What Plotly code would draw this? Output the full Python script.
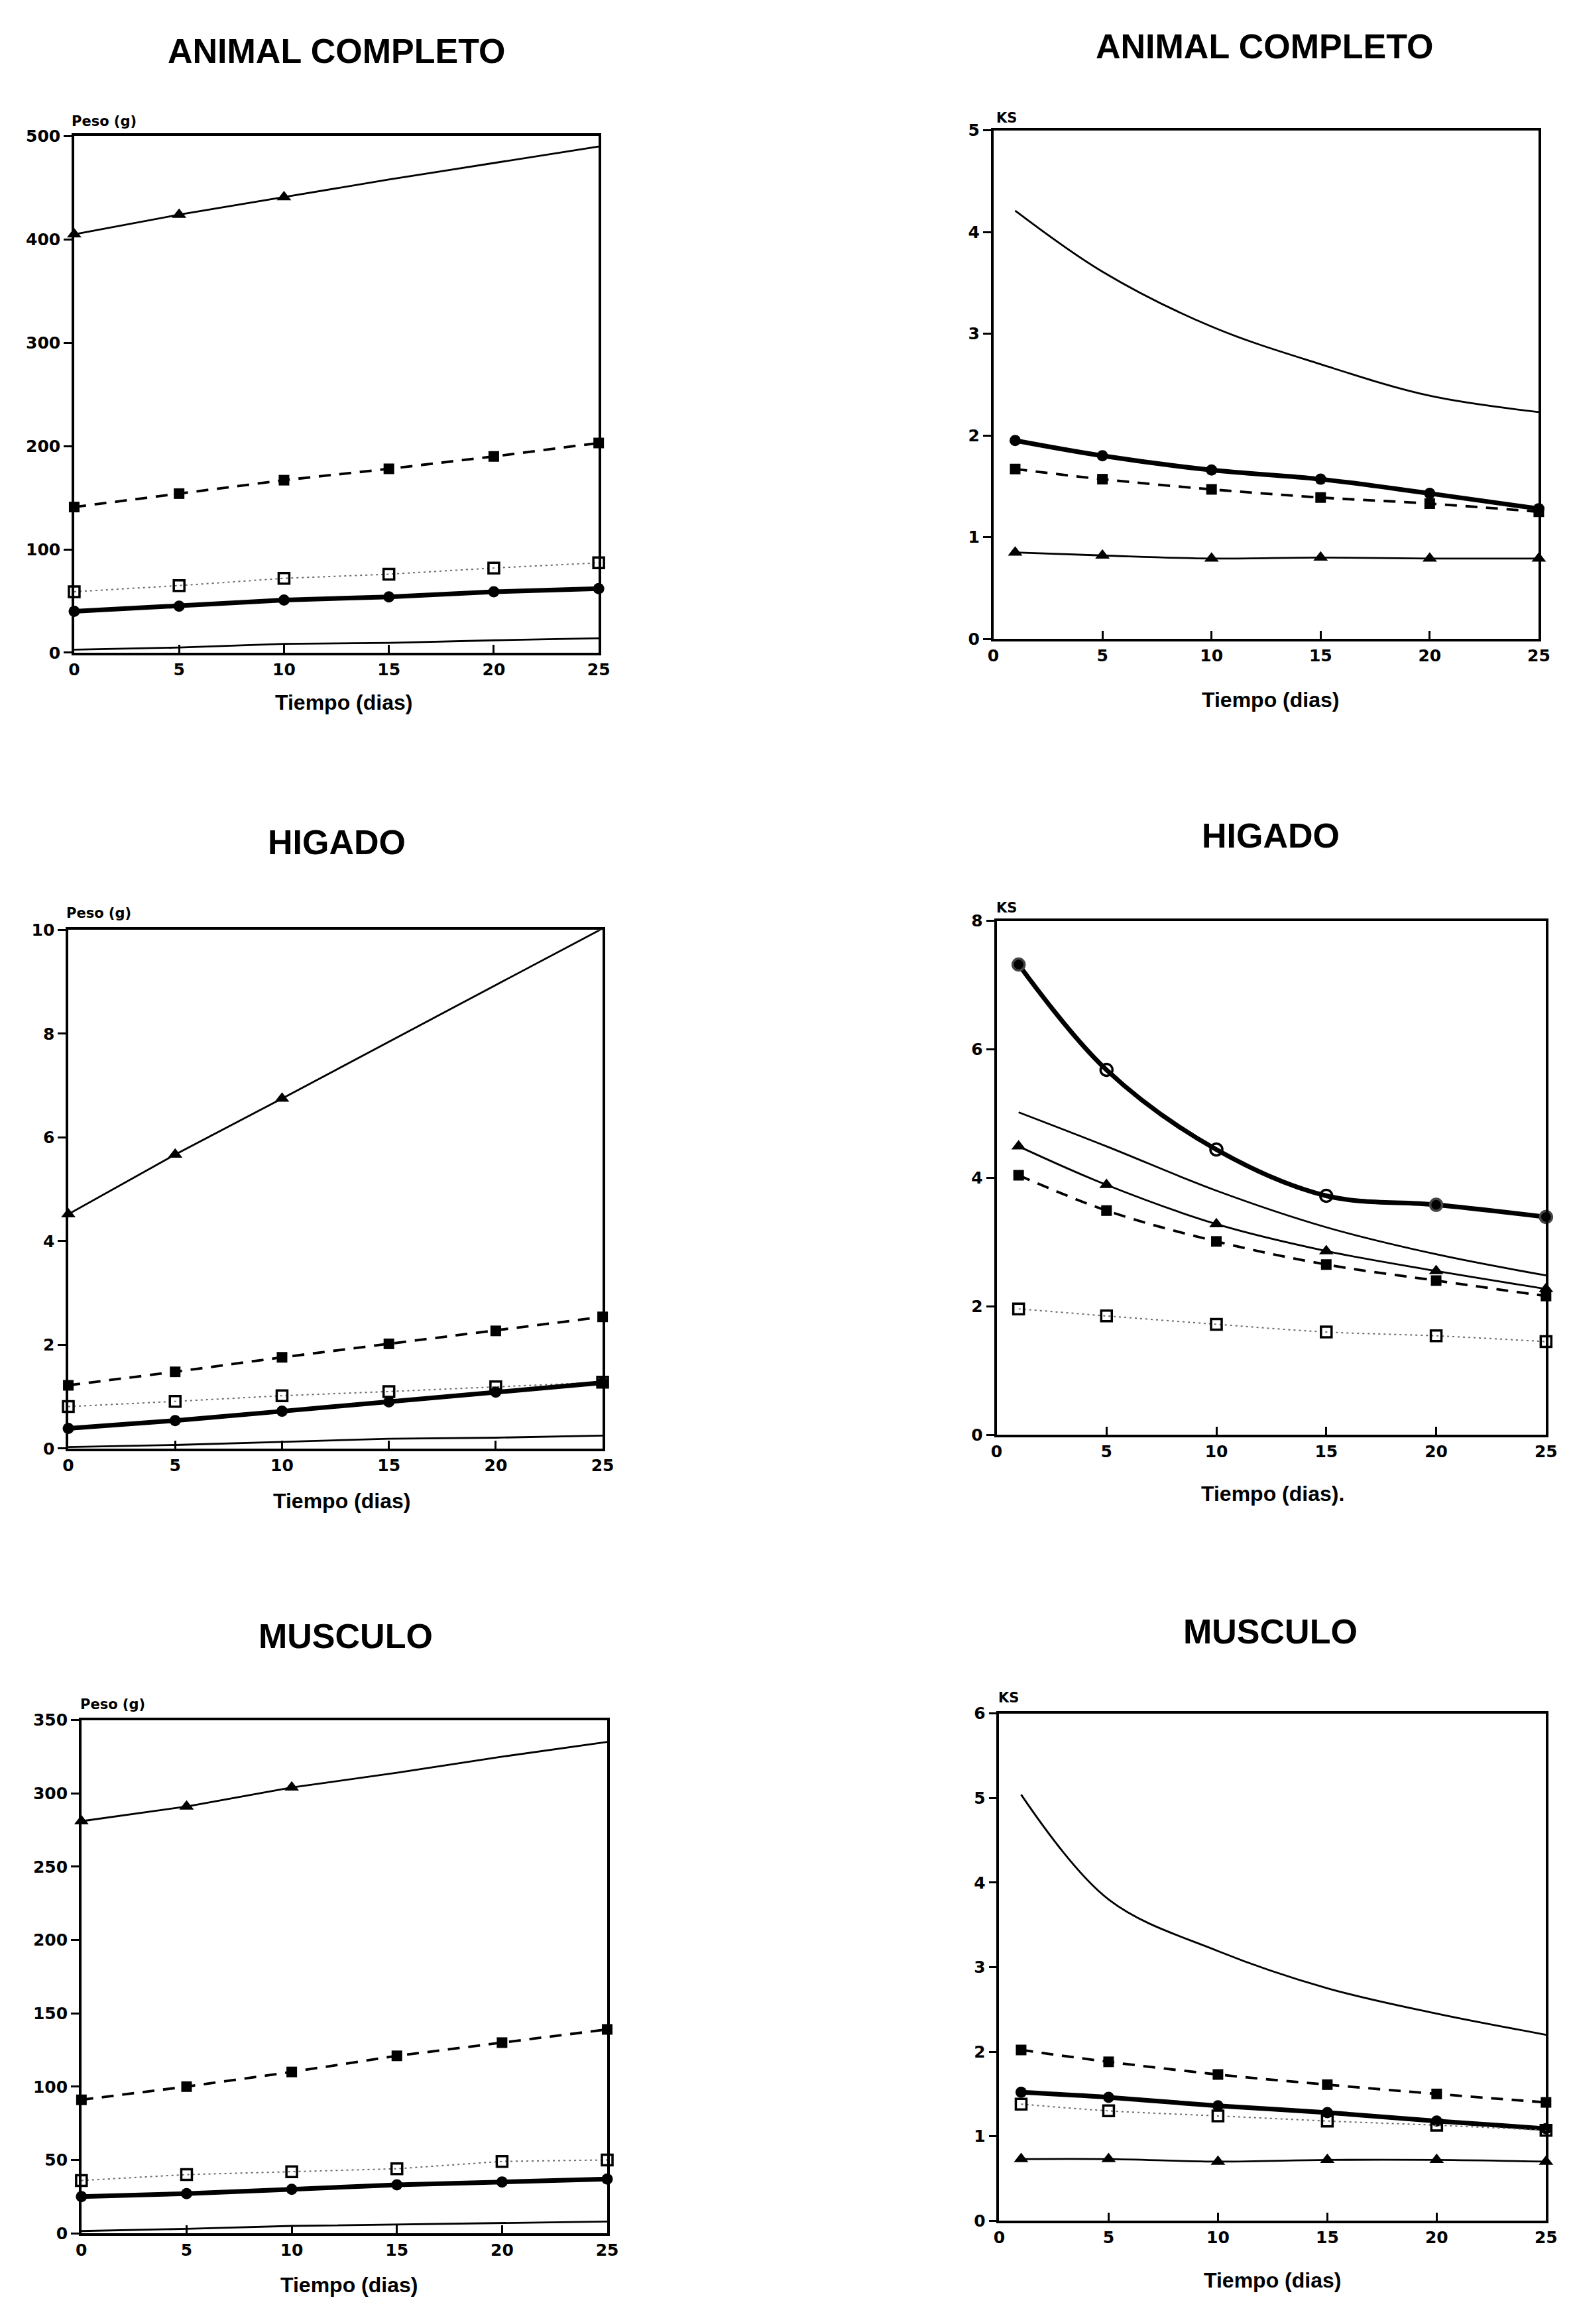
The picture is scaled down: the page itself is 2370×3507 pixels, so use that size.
import plotly.graph_objects as go

W, H = 2370, 3507

# ---------------- data ----------------
X_PESO = [0, 5, 10, 15, 20, 25]
X_KS = [1, 5, 10, 15, 20, 25]

# ANIMAL COMPLETO - Peso (g)
a_tri = [405, 424, 441, 458, 474, 490]
a_sqf = [141, 154, 167, 178, 190, 203]
a_sqo = [59, 65, 72, 76, 82, 87]
a_circ = [40, 45, 51, 54, 59, 62]
a_thin = [3, 5, 8.5, 9.5, 12, 14]

# ANIMAL COMPLETO - KS
b_thin = [4.21, 3.61, 3.07, 2.70, 2.39, 2.23]
b_circ = [1.95, 1.80, 1.66, 1.57, 1.43, 1.28]
b_sqf = [1.67, 1.57, 1.47, 1.39, 1.33, 1.25]
b_tri = [0.85, 0.82, 0.79, 0.80, 0.79, 0.79]

# HIGADO - Peso (g)
c_tri = [4.52, 5.67, 6.75, 7.85, 8.94, 10.03]
c_sqf = [1.22, 1.48, 1.76, 2.02, 2.27, 2.54]
c_sqo = [0.81, 0.91, 1.02, 1.10, 1.19, 1.28]
c_circ = [0.39, 0.54, 0.72, 0.90, 1.09, 1.27]
c_thin = [0.03, 0.07, 0.13, 0.19, 0.21, 0.25]

# HIGADO - KS
d_circ = [7.32, 5.68, 4.44, 3.72, 3.58, 3.39]
d_thin = [5.02, 4.49, 3.80, 3.23, 2.81, 2.48]
d_tri = [4.49, 3.89, 3.28, 2.86, 2.55, 2.27]
d_sqf = [4.04, 3.49, 3.01, 2.65, 2.40, 2.16]
d_sqo = [1.96, 1.85, 1.72, 1.60, 1.54, 1.45]

# MUSCULO - Peso (g)
e_tri = [281, 291, 304, 314, 325, 335]
e_sqf = [91, 100, 110, 121, 130, 139]
e_sqo = [36, 40, 42, 44, 49, 50]
e_circ = [25, 27, 30, 33, 35, 37]
e_thin = [1.5, 3, 5, 6, 7, 8]

# MUSCULO - KS
f_thin = [5.04, 3.80, 3.19, 2.75, 2.45, 2.20]
f_sqf = [2.02, 1.88, 1.73, 1.61, 1.50, 1.40]
f_circ = [1.52, 1.46, 1.36, 1.28, 1.18, 1.09]
f_sqo = [1.38, 1.30, 1.24, 1.18, 1.13, 1.07]
f_tri = [0.73, 0.73, 0.70, 0.72, 0.72, 0.70]

TITLES = ["ANIMAL COMPLETO", "ANIMAL COMPLETO", "HIGADO", "HIGADO", "MUSCULO", "MUSCULO"]
XLABELS = ["Tiempo (dias)", "Tiempo (dias)", "Tiempo (dias)", "Tiempo (dias).", "Tiempo (dias)", "Tiempo (dias)"]
YLABELS = ["Peso (g)", "KS", "Peso (g)", "KS", "Peso (g)", "KS"]
Y_MAX = [500, 5, 10, 8, 350, 6]
Y_STEP = [100, 1, 2, 2, 50, 1]

# ---------------- styles ----------------
STY = {
    "tri": dict(line=dict(color="black", width=2.8),
                marker=dict(symbol="triangle-up", size=19, color="black")),
    "sqf": dict(line=dict(color="black", width=3.8, dash="18px,13px"),
                marker=dict(symbol="square", size=16, color="black")),
    "sqo": dict(line=dict(color="#6a6a6a", width=2, dash="3px,5px"),
                marker=dict(symbol="square-open", size=16, color="black", line=dict(width=3.5))),
    "circ": dict(line=dict(color="black", width=7),
                 marker=dict(symbol="circle", size=17, color="black")),
    "circo": dict(line=dict(color="black", width=7),
                  marker=dict(symbol=["circle", "circle-open", "circle-open", "circle-open", "circle", "circle"],
                              size=18, color="black", line=dict(width=3.5))),
    "thin": dict(line=dict(color="black", width=2.8), marker=dict(size=1)),
}

# panel boxes in pixels: (left, right, top, bottom)
BOX = [(96, 896, 185, 971), (1498, 2330, 176, 950),
       (87, 902, 1393, 2182), (1503, 2341, 1379, 2161),
       (107, 909, 2595, 3376), (1507, 2341, 2585, 3357)]
TITLE_POS = [(496, 55), (1911, 48), (496, 1259), (1921, 1249), (510, 2467), (1921, 2460)]
XLAB_POS = [(507, 1047), (1921, 1043), (504, 2262), (1924, 2251), (515, 3455), (1924, 3448)]
YLAB_POS = [(90, 162), (1500, 157), (82, 1367), (1500, 1359), (103, 2571), (1503, 2561)]

PANELS = [
    (X_PESO, [(a_tri, "tri", 3), (a_sqf, "sqf", 6), (a_sqo, "sqo", 6), (a_circ, "circ", 6), (a_thin, "thin", 0)], "linear"),
    (X_KS, [(b_thin, "thin", 0), (b_circ, "circ", 6), (b_sqf, "sqf", 6), (b_tri, "tri", 6)], "spline"),
    (X_PESO, [(c_tri, "tri", 3), (c_sqf, "sqf", 6), (c_sqo, "sqo", 6), (c_circ, "circ", 6), (c_thin, "thin", 0)], "linear"),
    (X_KS, [(d_circ, "circo", 6), (d_thin, "thin", 0), (d_tri, "tri", 6), (d_sqf, "sqf", 6), (d_sqo, "sqo", 6)], "spline"),
    (X_PESO, [(e_tri, "tri", 3), (e_sqf, "sqf", 6), (e_sqo, "sqo", 6), (e_circ, "circ", 6), (e_thin, "thin", 0)], "linear"),
    (X_KS, [(f_thin, "thin", 0), (f_sqf, "sqf", 6), (f_circ, "circ", 6), (f_sqo, "sqo", 6), (f_tri, "tri", 6)], "spline"),
]

def px(x):
    return x / W

def py(y):
    return 1 - y / H

fig = go.Figure()
layout = dict(width=W, height=H, margin=dict(l=0, r=0, t=0, b=0),
              paper_bgcolor="white", plot_bgcolor="white", showlegend=False)
annotations = []
TICKFONT = dict(family="DejaVu Sans", size=25, color="black", weight="bold")

for i, (xs, series, shape) in enumerate(PANELS):
    n = i + 1
    xa = "x" if n == 1 else f"x{n}"
    ya = "y" if n == 1 else f"y{n}"
    for vals, key, nmark in series:
        s = STY[key]
        fig.add_trace(go.Scatter(x=xs, y=vals, mode="lines", line=dict(s["line"], shape=shape),
                                 xaxis=xa, yaxis=ya, cliponaxis=False, hoverinfo="skip"))
        if nmark:
            fig.add_trace(go.Scatter(x=xs[:nmark], y=vals[:nmark], mode="markers", marker=s["marker"],
                                     xaxis=xa, yaxis=ya, cliponaxis=False, hoverinfo="skip"))
    l, r, t, b = BOX[i]
    axkey = "xaxis" if n == 1 else f"xaxis{n}"
    aykey = "yaxis" if n == 1 else f"yaxis{n}"
    layout[axkey] = dict(domain=[px(l), px(r)], anchor=ya, range=[0, 25], tickvals=[0, 5, 10, 15, 20, 25],
                         ticks="inside", ticklen=12, tickwidth=2.5, tickcolor="black",
                         showline=True, linecolor="black", linewidth=3.5, mirror=True,
                         showgrid=False, zeroline=False, tickfont=TICKFONT)
    layout[aykey] = dict(domain=[py(b), py(t)], anchor=xa, range=[0, Y_MAX[i]],
                         tickvals=list(range(0, Y_MAX[i] + 1, Y_STEP[i])),
                         ticks="outside", ticklen=12, tickwidth=2.5, tickcolor="black",
                         showline=True, linecolor="black", linewidth=3.5, mirror=True,
                         showgrid=False, zeroline=False, tickfont=TICKFONT)
    tx, ty = TITLE_POS[i]
    annotations.append(dict(text=TITLES[i], x=px(tx), y=py(ty), xref="paper", yref="paper",
                            xanchor="center", yanchor="middle", showarrow=False,
                            font=dict(family="Liberation Sans", size=52, color="black", weight="bold")))
    lx, ly = XLAB_POS[i]
    annotations.append(dict(text=XLABELS[i], x=px(lx), y=py(ly), xref="paper", yref="paper",
                            xanchor="center", yanchor="middle", showarrow=False,
                            font=dict(family="Liberation Sans", size=32, color="black", weight="bold")))
    yx, yy = YLAB_POS[i]
    annotations.append(dict(text=YLABELS[i], x=px(yx), y=py(yy), xref="paper", yref="paper",
                            xanchor="left", yanchor="middle", showarrow=False,
                            font=dict(family="DejaVu Sans", size=21, color="black", weight="bold")))

layout["annotations"] = annotations
fig.update_layout(**layout)
fig.write_html("out.html")
